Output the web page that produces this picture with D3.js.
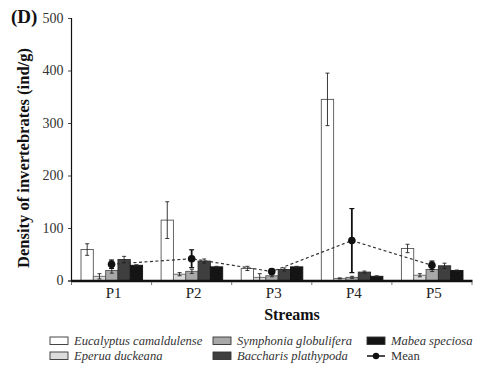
<!DOCTYPE html>
<html>
<head>
<meta charset="utf-8">
<script src="https://cdn.jsdelivr.net/npm/d3@7"></script>
<style>
  html, body { margin: 0; padding: 0; background: #fff; }
  svg { display: block; }
</style>
</head>
<body>
<svg id="chart" width="477" height="378"></svg>
<script>
// Streams and leaf species
const streams = ["P1", "P2", "P3", "P4", "P5"];
const species = ["Eucalyptus camaldulense", "Eperua duckeana", "Symphonia globulifera", "Baccharis plathypoda", "Mabea speciosa"];

// Invertebrate density (ind/g) per species, one value per stream, with error (±)
const eucalyptus    = [59, 115, 23, 345, 61];
const eucalyptusErr = [11, 35, 4, 50, 8];
const eperua        = [8, 12, 6, 4, 10];
const eperuaErr     = [5, 3, 7, 1, 3];
const symphonia     = [19, 17.5, 9, 6, 21];
const symphoniaErr  = [5, 4, 2, 2, 4];
const baccharis     = [40, 37, 21, 16, 28];
const baccharisErr  = [6, 4, 3, 2, 5];
const mabea         = [29, 26, 26, 8, 19];
const mabeaErr      = [1, 1, 1, 1, 1];
const meanValues    = [31, 41.5, 17, 76, 29];
const meanErr       = [8, 17, 5, 61, 8];

const yTicks = [0, 100, 200, 300, 400, 500];

const FONT = "Liberation Serif";

const seriesValues = [eucalyptus, eperua, symphonia, baccharis, mabea];
const seriesErrors = [eucalyptusErr, eperuaErr, symphoniaErr, baccharisErr, mabeaErr];
const fills = ["#ffffff", "#dcdcdc", "#a8a8a8", "#3f3f3f", "#141414"];
const strokes = ["#555", "#666", "#555", "#2a2a2a", "#111"];

const rows = [];
streams.forEach((s, i) => {
  species.forEach((sp, j) => {
    rows.push({ stream: s, species: sp, value: seriesValues[j][i], err: seriesErrors[j][i], k: j });
  });
});

const svg = d3.select("#chart");

const x = d3.scaleBand().domain(streams).range([71.5, 472]).paddingInner(0).paddingOuter(0);
const x1 = d3.scaleBand().domain(species).range([9.5, x.bandwidth() - 9]).padding(0);
const y = d3.scaleLinear().domain([0, 500]).range([280.5, 18]);

// Bars
const g = svg.append("g");
g.selectAll("rect.bar").data(rows).join("rect")
  .attr("class", "bar")
  .attr("x", d => x(d.stream) + x1(d.species))
  .attr("y", d => y(d.value))
  .attr("width", x1.bandwidth())
  .attr("height", d => y(0) - y(d.value))
  .attr("fill", d => fills[d.k])
  .attr("stroke", d => strokes[d.k])
  .attr("stroke-width", 0.9);

// Error bars on species
const cap = 2;
const bx = d => x(d.stream) + x1(d.species) + x1.bandwidth() / 2;
const eb = g.selectAll("g.err").data(rows).join("g").attr("class", "err")
  .attr("stroke", "#222").attr("stroke-width", 0.9);
eb.append("line")
  .attr("x1", bx).attr("x2", bx)
  .attr("y1", d => y(d.value + d.err))
  .attr("y2", d => y(Math.max(0, d.value - d.err)));
eb.append("line")
  .attr("x1", d => bx(d) - cap).attr("x2", d => bx(d) + cap)
  .attr("y1", d => y(d.value + d.err))
  .attr("y2", d => y(d.value + d.err));
eb.append("line")
  .attr("x1", d => bx(d) - cap).attr("x2", d => bx(d) + cap)
  .attr("y1", d => y(Math.max(0, d.value - d.err)))
  .attr("y2", d => y(Math.max(0, d.value - d.err)));

// Mean across species: dashed line, error bars and dots
const meanData = streams.map((s, i) => ({ stream: s, value: meanValues[i], err: meanErr[i] }));
const cx = d => x(d.stream) + x.bandwidth() / 2;

svg.append("path")
  .datum(meanData)
  .attr("fill", "none")
  .attr("stroke", "#333")
  .attr("stroke-width", 1.2)
  .attr("stroke-dasharray", "3,2.5")
  .attr("d", d3.line().x(cx).y(d => y(d.value)));

const me = svg.append("g").attr("stroke", "#111").attr("stroke-width", 1.8);
me.selectAll("line.v").data(meanData).join("line").attr("class", "v")
  .attr("x1", cx).attr("x2", cx)
  .attr("y1", d => y(d.value + d.err)).attr("y2", d => y(d.value - d.err));
me.selectAll("line.t").data(meanData).join("line").attr("class", "t")
  .attr("x1", d => cx(d) - 2.5).attr("x2", d => cx(d) + 2.5)
  .attr("y1", d => y(d.value + d.err)).attr("y2", d => y(d.value + d.err))
  .attr("stroke-width", 1.2);
me.selectAll("line.b").data(meanData).join("line").attr("class", "b")
  .attr("x1", d => cx(d) - 2.5).attr("x2", d => cx(d) + 2.5)
  .attr("y1", d => y(d.value - d.err)).attr("y2", d => y(d.value - d.err))
  .attr("stroke-width", 1.2);

svg.append("g").selectAll("circle").data(meanData).join("circle")
  .attr("cx", cx)
  .attr("cy", d => y(d.value))
  .attr("r", 3.8)
  .attr("fill", "#111");

// Y axis
const yAxis = svg.append("g")
  .attr("transform", "translate(71,0)")
  .call(d3.axisLeft(y).tickValues(yTicks).tickSize(3).tickPadding(4.5));
yAxis.select(".domain").attr("stroke", "#111").attr("stroke-width", 1.2);
yAxis.selectAll(".tick line").attr("stroke", "#444");
yAxis.selectAll(".tick text")
  .style("font-family", FONT)
  .style("font-size", "14px")
  .attr("fill", "#333");

// X axis: thick baseline with boundary ticks between streams
const xAxis = svg.append("g").attr("transform", "translate(0,281)");
xAxis.append("line")
  .attr("x1", 71).attr("x2", 472.5)
  .attr("y1", 0).attr("y2", 0)
  .attr("stroke", "#111").attr("stroke-width", 2.6);
const bounds = streams.map(s => x(s)).concat([x.range()[1]]);
xAxis.selectAll("line.bt").data(bounds).join("line").attr("class", "bt")
  .attr("x1", d => d).attr("x2", d => d)
  .attr("y1", 1).attr("y2", 4)
  .attr("stroke", "#777").attr("stroke-width", 1);
xAxis.selectAll("text").data(streams).join("text")
  .attr("x", d => x(d) + x.bandwidth() / 2 + 2)
  .attr("y", 17)
  .attr("text-anchor", "middle")
  .style("font-family", FONT)
  .style("font-size", "15px")
  .attr("fill", "#222")
  .text(d => d);

// Titles
svg.append("text")
  .attr("x", 11).attr("y", 23)
  .style("font-family", FONT)
  .style("font-size", "19px").style("font-weight", "bold").attr("fill", "#111")
  .text("(D)");

const yTitle = svg.append("text")
  .attr("transform", "translate(29,158) rotate(-90)")
  .attr("text-anchor", "middle")
  .style("font-family", FONT)
  .style("font-size", "15px").style("font-weight", "bold").attr("fill", "#111")
  .text("Density of invertebrates (ind/g)");
// size the axis title to span 220px along the axis
const tl = yTitle.node().getComputedTextLength();
if (tl > 0) yTitle.style("font-size", (15 * 220 / tl).toFixed(2) + "px");

svg.append("text")
  .attr("x", 292).attr("y", 320)
  .attr("text-anchor", "middle")
  .style("font-family", FONT)
  .style("font-size", "16px").style("font-weight", "bold").attr("fill", "#111")
  .text("Streams");

// Legend
const legendPos = [
  { col: 0, row: 0 }, { col: 0, row: 1 },
  { col: 1, row: 0 }, { col: 1, row: 1 },
  { col: 2, row: 0 }
];
const colX = [50, 213, 367];
const rowY = [341, 356];
const legend = svg.append("g");
species.forEach((sp, j) => {
  const p = legendPos[j];
  legend.append("rect")
    .attr("x", colX[p.col]).attr("y", rowY[p.row] - 4)
    .attr("width", 18).attr("height", 7.5)
    .attr("fill", fills[j]).attr("stroke", "#333").attr("stroke-width", 0.9);
  legend.append("text")
    .attr("x", colX[p.col] + 24).attr("y", rowY[p.row] + 4)
    .style("font-family", FONT)
    .style("font-size", "12.6px").style("font-style", "italic").attr("fill", "#333")
    .text(sp);
});
legend.append("line")
  .attr("x1", colX[2]).attr("x2", colX[2] + 18)
  .attr("y1", rowY[1]).attr("y2", rowY[1])
  .attr("stroke", "#111").attr("stroke-width", 1.5);
legend.append("circle")
  .attr("cx", colX[2] + 9).attr("cy", rowY[1]).attr("r", 3.2).attr("fill", "#111");
legend.append("text")
  .attr("x", colX[2] + 24).attr("y", rowY[1] + 4)
  .style("font-family", FONT)
  .style("font-size", "12.6px").attr("fill", "#333")
  .text("Mean");
</script>
</body>
</html>
